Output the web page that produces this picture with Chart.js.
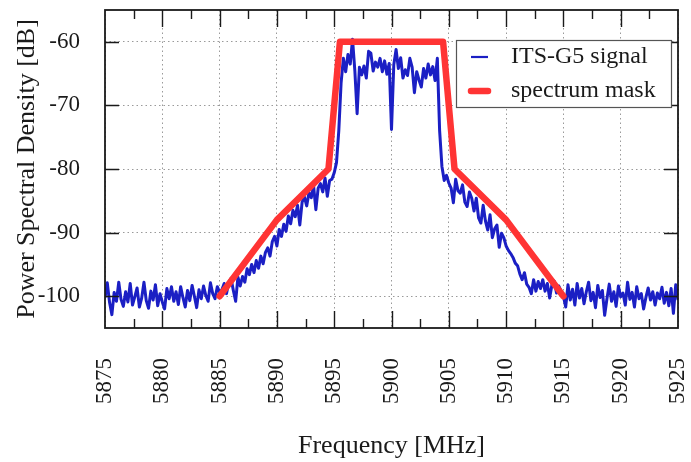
<!DOCTYPE html>
<html>
<head>
<meta charset="utf-8">
<script src="https://cdn.jsdelivr.net/npm/chart.js@4"></script>
<style>
  html, body { margin: 0; padding: 0; background: #fff; }
  #wrap { width: 691px; height: 462px; }
</style>
</head>
<body>
<div id="wrap"><canvas id="psd"></canvas></div>
<script>
// sampling grid of the measured signal (MHz)
const freqStart = 5875
const freqStep = 0.2

// measured ITS-G5 power spectral density, one row = 2 MHz
const signalDb = [
  -100.2, -97.9, -101.0, -102.9, -99.4, -100.8, -97.8, -100.5, -101.6, -99.3,
  -100.9, -98.0, -101.4, -100.1, -98.7, -101.7, -100.3, -97.8, -100.7, -101.9,
  -99.2, -100.6, -98.2, -101.5, -99.6, -100.9, -102.0, -98.8, -100.4, -98.5,
  -100.8, -99.3, -101.3, -98.5, -100.2, -101.7, -99.1, -100.7, -98.3, -100.0,
  -101.8, -99.0, -100.4, -98.4, -99.9, -100.8, -97.9, -99.6, -100.4, -98.5,
  -99.4, -99.0, -98.0, -99.6, -97.8, -97.2, -99.1, -100.8, -97.0, -98.4,
  -96.9, -97.8, -95.7, -96.6, -95.0, -96.3, -94.4, -95.6, -93.7, -94.9,
  -93.1, -92.4, -93.7, -91.4, -90.6, -92.1, -89.5, -90.6, -88.7, -89.8,
  -87.4, -88.6, -86.5, -87.5, -85.7, -88.8, -85.2, -84.4, -85.8, -83.7,
  -84.5, -82.6, -86.4, -83.0, -82.3, -83.6, -81.4, -84.3, -81.8, -81.6,
  -80.6, -79.0, -74.0, -66.5, -62.6, -64.7, -62.0, -63.5, -59.6, -64.5,
  -71.3, -64.0, -65.2, -63.8, -65.7, -61.5, -61.8, -64.6, -63.2, -64.0,
  -62.6, -64.7, -63.0, -65.1, -63.4, -73.8, -63.6, -61.2, -64.2, -62.5,
  -65.7, -64.4, -65.3, -62.6, -64.0, -68.0, -64.7, -66.0, -67.1, -64.2,
  -65.7, -63.5, -65.2, -63.9, -66.1, -62.6, -74.0, -79.6, -81.8, -81.0,
  -82.2, -83.0, -85.3, -81.6, -83.4, -83.8, -82.5, -85.2, -85.9, -83.6,
  -84.6, -86.6, -84.6, -87.7, -88.5, -85.7, -88.2, -89.6, -87.2, -90.8,
  -89.4, -88.8, -92.3, -90.1, -90.8, -92.1, -92.8, -93.3, -93.9, -94.8,
  -95.2, -96.5, -97.4, -96.3, -98.1, -98.6, -99.6, -97.4, -99.2, -97.7,
  -98.8, -97.4, -99.2, -98.0, -100.3, -98.2, -97.6, -99.5, -98.4, -99.2,
  -100.0, -101.7, -98.2, -100.6, -98.9, -101.4, -98.0, -100.3, -98.8, -101.2,
  -99.3, -97.8, -100.7, -99.4, -101.8, -98.3, -100.2, -99.1, -103.0, -100.4,
  -98.1, -100.8, -99.3, -101.6, -98.4, -100.1, -99.5, -101.4, -97.8, -100.5,
  -99.4, -101.7, -98.5, -100.4, -99.6, -102.0, -100.2, -98.7, -100.6, -99.3,
  -101.4, -99.5, -100.4, -98.6, -101.1, -99.4, -101.5, -98.8, -102.7, -98.2,
  -100.6
]

// spectrum mask corner points
const maskFreq = [5885, 5890, 5894.5, 5895.5, 5904.5, 5905.5, 5910, 5915]
const maskDb = [-100, -88, -80, -60, -60, -80, -88, -100]

const xMajorTicks = [5875, 5880, 5885, 5890, 5895, 5900, 5905, 5910, 5915, 5920, 5925]
const xMinorTicks = [5877.5, 5882.5, 5887.5, 5892.5, 5897.5, 5902.5, 5907.5, 5912.5, 5917.5, 5922.5]
const yTicks = [-100, -90, -80, -70, -60]

const serif = '"Liberation Serif", "DejaVu Serif", serif'
const ink = '#1a1a1a'

// ticks pointing into the plot on all four sides, plus the frame
const frameTicks = {
  id: 'frameTicks',
  afterDatasetsDraw(chart) {
    const { ctx, chartArea: a, scales: { x, y } } = chart
    ctx.save()
    ctx.strokeStyle = ink
    ctx.lineWidth = 1.4
    ctx.beginPath()
    const xTick = (v, len) => {
      const px = Math.round(x.getPixelForValue(v)) + 0.5
      ctx.moveTo(px, a.bottom); ctx.lineTo(px, a.bottom - len)
      ctx.moveTo(px, a.top); ctx.lineTo(px, a.top + len)
    }
    xMajorTicks.slice(1, -1).forEach(v => xTick(v, 17))
    xMinorTicks.forEach(v => xTick(v, 9))
    yTicks.forEach(v => {
      const py = Math.round(y.getPixelForValue(v)) + 0.5
      ctx.moveTo(a.left, py); ctx.lineTo(a.left + 14, py)
      ctx.moveTo(a.right, py); ctx.lineTo(a.right - 14, py)
    })
    ctx.stroke()
    ctx.lineWidth = 1.8
    ctx.strokeRect(a.left, a.top, a.right - a.left, a.bottom - a.top)
    ctx.restore()
  },
}

// boxed legend in the upper right corner of the plot
const boxLegend = {
  id: 'boxLegend',
  afterDraw(chart) {
    const { ctx } = chart
    const box = { x: 456, y: 40, w: 215, h: 67 }
    ctx.save()
    ctx.fillStyle = '#fff'
    ctx.fillRect(box.x, box.y, box.w, box.h)
    ctx.strokeStyle = '#555'
    ctx.lineWidth = 1.2
    ctx.strokeRect(box.x + 0.5, box.y + 0.5, box.w, box.h)
    ctx.font = '24px ' + serif
    ctx.textBaseline = 'middle'
    chart.data.datasets.forEach((ds, i) => {
      const cy = box.y + 17 + i * 34
      ctx.strokeStyle = ds.borderColor
      ctx.lineWidth = i === 0 ? 2.2 : ds.borderWidth
      ctx.lineCap = ds.borderCapStyle || 'butt'
      ctx.beginPath()
      ctx.moveTo(box.x + 15, cy)
      ctx.lineTo(box.x + 32, cy)
      ctx.stroke()
      ctx.fillStyle = ink
      ctx.fillText(ds.label, box.x + 55, cy)
    })
    ctx.restore()
  },
}

// keep the plot area fixed: no extra room for overhanging tick labels
const noOverhang = (s) => {
  s.paddingTop = 0
  s.paddingBottom = 0
  s.paddingLeft = 0
  s.paddingRight = 0
}

new Chart(document.getElementById('psd'), {
  type: 'line',
  data: {
    datasets: [
      {
        label: 'ITS-G5 signal',
        data: signalDb.map((v, i) => ({ x: freqStart + i * freqStep, y: v })),
        borderColor: '#1b1fc4',
        borderWidth: 3,
        borderJoinStyle: 'round',
        pointRadius: 0,
        tension: 0,
        order: 1,
      },
      {
        label: 'spectrum mask',
        data: maskFreq.map((f, i) => ({ x: f, y: maskDb[i] })),
        borderColor: '#ff3434',
        borderWidth: 6.5,
        borderCapStyle: 'round',
        borderJoinStyle: 'round',
        pointRadius: 0,
        tension: 0,
        order: 0,
      },
    ],
  },
  options: {
    responsive: true,
    maintainAspectRatio: false,
    animation: false,
    devicePixelRatio: 1,
    layout: { padding: { left: 0, right: 13, top: 10, bottom: 0 } },
    plugins: {
      legend: { display: false },
      tooltip: { enabled: false },
    },
    scales: {
      x: {
        type: 'linear',
        min: 5875,
        max: 5925,
        afterBuildTicks: (s) => { s.ticks = xMajorTicks.map((v) => ({ value: v })) },
        afterFit: (s) => { s.height = 134; noOverhang(s) },
        ticks: {
          autoSkip: false,
          minRotation: 90,
          maxRotation: 90,
          padding: 30,
          color: ink,
          font: { family: serif, size: 23 },
          callback: (v) => String(v),
        },
        grid: { color: '#9a9a9a', lineWidth: 1, drawTicks: false, tickLength: 0 },
        border: { display: false, dash: [1.5, 3] },
        title: {
          display: true,
          text: 'Frequency [MHz]',
          color: ink,
          font: { family: serif, size: 26 },
          padding: { top: 0, bottom: 0 },
        },
      },
      y: {
        min: -105,
        max: -55,
        afterBuildTicks: (s) => { s.ticks = yTicks.map((v) => ({ value: v })) },
        afterFit: (s) => { s.width = 105; noOverhang(s) },
        ticks: {
          padding: 25,
          color: ink,
          font: { family: serif, size: 23 },
          callback: (v) => String(v),
        },
        grid: { color: '#9a9a9a', lineWidth: 1, drawTicks: false, tickLength: 0 },
        border: { display: false, dash: [1.5, 3] },
        title: {
          display: true,
          text: 'Power Spectral Density [dB]',
          color: ink,
          font: { family: serif, size: 26 },
          padding: { top: 12, bottom: 0 },
        },
      },
    },
  },
  plugins: [frameTicks, boxLegend],
})
</script>
</body>
</html>
